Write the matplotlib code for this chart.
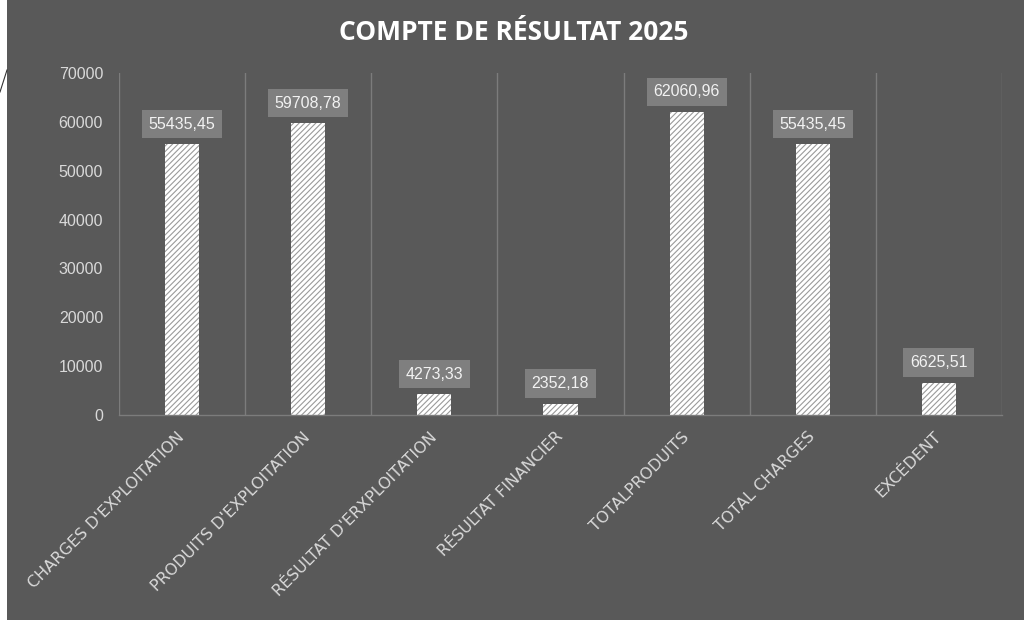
import matplotlib
matplotlib.use("Agg")
import matplotlib.pyplot as plt
from matplotlib.lines import Line2D
import numpy as np

# donnees du compte de resultat
categories = ["CHARGES D'EXPLOITATION", "PRODUITS D'EXPLOITATION", "RÉSULTAT D'ERXPLOITATION",
              "RÉSULTAT FINANCIER", "TOTALPRODUITS", "TOTAL CHARGES", "EXCÉDENT"]
values = [55435.45, 59708.78, 4273.33, 2352.18, 62060.96, 55435.45, 6625.51]
yticks = [0, 10000, 20000, 30000, 40000, 50000, 60000, 70000]

BG = "#595959"
GRID = "#7c7c7c"
TXT = "#d9d9d9"

plt.rcParams["hatch.linewidth"] = 0.8

fig = plt.figure(figsize=(10.24, 6.26), dpi=100)
fig.patch.set_facecolor("white")

# fond gris du graphique (petite marge blanche a gauche et en bas)
bg = fig.add_axes([7/1024, 6/626, 1 - 7/1024, 1 - 6/626], zorder=-10)
bg.set_facecolor(BG)
bg.set_xticks([])
bg.set_yticks([])
for s in bg.spines.values():
    s.set_visible(False)
fig.lines.append(Line2D([0, 7/1024], [1 - 92/626, 1 - 70/626], transform=fig.transFigure,
                        color="#333333", lw=0.8))

ax = fig.add_axes([119/1024, 1 - 415/626, (1002 - 119)/1024, (415 - 73)/626])
ax.set_facecolor("none")

x = np.arange(len(categories))
w = 0.27
ax.bar(x, values, width=w, color="white", edgecolor="none", zorder=2)
ax.bar(x, values, width=w, color="none", edgecolor="#9a9a9a", hatch="//////", linewidth=0, zorder=3)

for xi, v in zip(x, values):
    lab = f"{v:.2f}".replace(".", ",")
    ax.annotate(lab, (xi, v), xytext=(0, 9), textcoords="offset points", ha="center", va="bottom",
                fontsize=11.5, color="#f2f2f2", family="Liberation Sans", zorder=5,
                bbox=dict(boxstyle="square,pad=0.42", facecolor="#7f7f7f", edgecolor="none"))

ax.set_xlim(-0.5, len(categories) - 0.5)
ax.set_ylim(0, 70000)
ax.set_yticks(yticks)
ax.set_yticklabels([str(t) for t in yticks])
ax.set_xticks(x)
ax.set_xticklabels(categories, rotation=45, rotation_mode="anchor", ha="right", va="center")
for t in ax.get_yticklabels():
    t.set_fontfamily("Liberation Sans")
    t.set_fontsize(11.5)
    t.set_color(TXT)
for t in ax.get_xticklabels():
    t.set_fontfamily("DejaVu Sans")
    t.set_fontsize(11.5)
    t.set_color(TXT)
ax.set_xticks(np.arange(-0.5, len(categories), 1.0), minor=True)
ax.tick_params(axis="both", which="both", length=0)
ax.tick_params(axis="y", pad=11.5)
ax.tick_params(axis="x", pad=14)
ax.grid(which="minor", axis="x", color=GRID, lw=1, zorder=0)
ax.grid(which="major", axis="x", visible=False)
for s in ["top", "right", "left"]:
    ax.spines[s].set_visible(False)
ax.spines["bottom"].set_color(GRID)
ax.spines["bottom"].set_linewidth(1)

fig.text(514/1024, 1 - 33/626, "COMPTE DE RÉSULTAT 2025", ha="center", va="center",
         fontsize=19, fontweight="bold", color="white", family="Open Sans")

fig.savefig("out.png", dpi=100, facecolor=fig.get_facecolor())
